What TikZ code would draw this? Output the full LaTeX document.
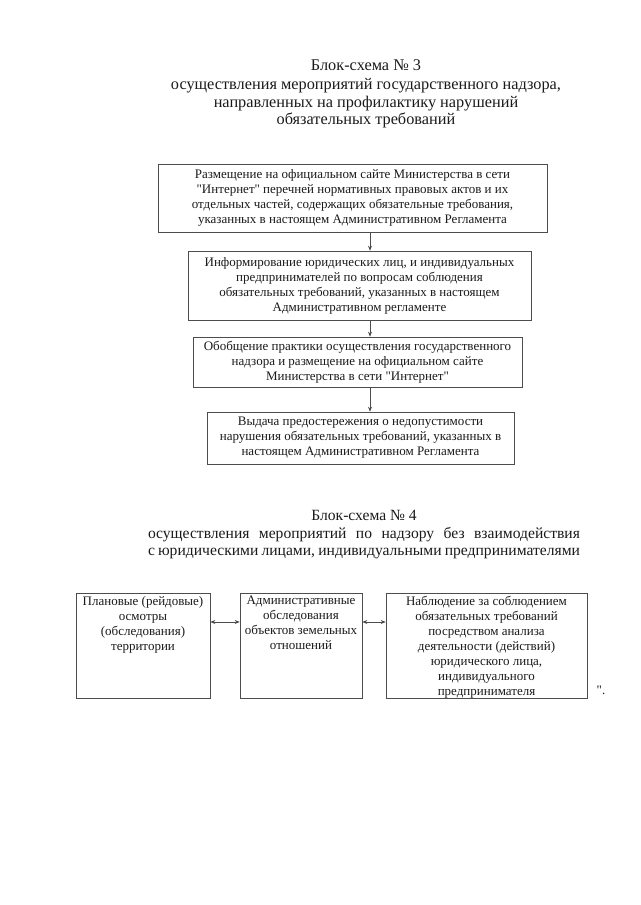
\documentclass[tikz,border=0pt]{standalone}
\usepackage{fontspec}
\setmainfont{Liberation Serif}[Ligatures=TeXOff]
\usetikzlibrary{arrows.meta}
\definecolor{FrameGray}{HTML}{4D4D4D}
\definecolor{TextInk}{HTML}{1A1A1A}

\begin{document}
\begin{tikzpicture}[
  x=1pt, y=-1pt,
  font=\fontsize{13}{15}\selectfont,
  >={Stealth[length=5pt, width=4pt]},
  box/.style={rectangle, draw=FrameGray, line width=0.6pt, text=TextInk,
              align=center, inner sep=0pt},
  title/.style={text=TextInk, align=center, inner sep=0pt,
                font=\fontsize{16.3}{17.5}\selectfont},
  arr/.style={->, draw=FrameGray, line width=0.6pt},
  link/.style={<->, draw=FrameGray, line width=0.6pt},
]
\useasboundingbox (0,0) rectangle (640,905);

% --- scheme 3: heading ---
\node[title] (head3) at (366,94)
  {Блок-схема № 3\\[2pt]
   осуществления мероприятий государственного надзора,\\
   направленных на профилактику нарушений\\
   обязательных требований};

% --- scheme 3: spine of boxes ---
\node[box, minimum width=389pt, minimum height=68pt] (place) at (352.5,198)
  {Размещение на официальном сайте Министерства в сети\\
   "Интернет" перечней нормативных правовых актов и их\\
   отдельных частей, содержащих обязательные требования,\\
   указанных в настоящем Административном Регламента};
\node[box, minimum width=343pt, minimum height=69pt] (inform) at (359.5,285.5)
  {Информирование юридических лиц, и индивидуальных\\
   предпринимателей по вопросам соблюдения\\
   обязательных требований, указанных в настоящем\\
   Административном регламенте};
\node[box, minimum width=329pt, minimum height=50pt] (practice) at (357.5,362)
  {Обобщение практики осуществления государственного\\
   надзора и размещение на официальном сайте\\
   Министерства в сети "Интернет"};
\node[box, minimum width=307pt, minimum height=52pt] (warning) at (360.5,438)
  {Выдача предостережения о недопустимости\\
   нарушения обязательных требований, указанных в\\
   настоящем Административном Регламента};

% --- spine arrows ---
\coordinate (spine) at (370,0);
\draw[arr] (place.south -| spine) -- (inform.north -| spine);
\draw[arr] (inform.south -| spine) -- (practice.north -| spine);
\draw[arr] (practice.south -| spine) -- (warning.north -| spine);

% --- scheme 4: heading ---
\node[title, font=\fontsize{15.6}{17.5}\selectfont] (head4) at (364,535)
  {Блок-схема № 4\\
   \makebox[432pt][s]{осуществления мероприятий по надзору без взаимодействия}\\
   \makebox[432pt][s]{с юридическими лицами, индивидуальными предпринимателями}};

% --- scheme 4: row of boxes ---
\node[box, minimum width=134pt, minimum height=105pt] (raids) at (143,645.5)
  {\parbox[c][99pt][t]{132pt}{\centering
   Плановые (рейдовые)\\осмотры\\(обследования)\\территории}};
\node[box, minimum width=122pt, minimum height=105pt] (survey) at (301,645.5)
  {\parbox[c][99pt][t]{120pt}{\centering
   Административные\\обследования\\объектов земельных\\отношений}};
\node[box, minimum width=201pt, minimum height=105pt] (watch) at (486.5,645.5)
  {\parbox[c][99pt][t]{199pt}{\centering
   Наблюдение за соблюдением\\обязательных требований\\посредством анализа\\
   деятельности (действий)\\юридического лица,\\индивидуального\\предпринимателя}};
\node[text=TextInk, inner sep=0pt] (close) at (601,690) {".};

% --- row arrows ---
\coordinate (row) at (0,622);
\draw[link] (raids.east |- row) -- (survey.west |- row);
\draw[link] (survey.east |- row) -- (watch.west |- row);

\end{tikzpicture}
\end{document}
